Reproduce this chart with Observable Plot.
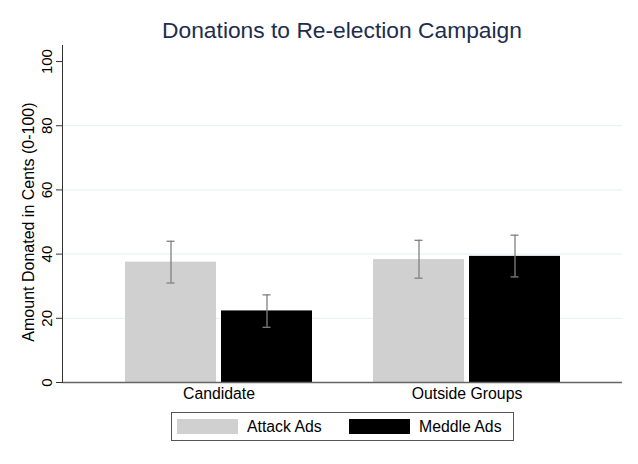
<!DOCTYPE html>
<html>
<head>
<meta charset="utf-8">
<script src="https://cdn.jsdelivr.net/npm/d3@7"></script>
<script src="https://cdn.jsdelivr.net/npm/@observablehq/plot@0.6"></script>
<style>
  html, body { margin: 0; padding: 0; background: #fff; }
  body { width: 638px; height: 464px; overflow: hidden; font-family: "Liberation Sans", Arial, sans-serif; }
  #title { height: 40px; box-sizing: border-box; padding-top: 19px; padding-left: 62px; width: 622px;
           text-align: center; font-size: 22.8px; line-height: 1; color: #1e2d4d; }
  #legend { margin-top: 5px; margin-left: 171px; width: 343px; height: 29px; box-sizing: border-box;
            border: 1px solid #555; display: flex; align-items: center; padding-left: 5px; font-size: 15.8px; color: #000; }
  .item { display: flex; align-items: center; }
  .sw { width: 61px; height: 15px; margin-right: 9px; }
</style>
</head>
<body>
<div id="title">Donations to Re-election Campaign</div>
<div id="chart"></div>
<div id="legend"></div>
<script>
const groups = ["Candidate", "Outside Groups"];
const series = ["Attack Ads", "Meddle Ads"];
const attackMeans = [37.5, 38.3];
const attackLo = [31.0, 32.5];
const attackHi = [44.0, 44.3];
const meddleMeans = [22.3, 39.3];
const meddleLo = [17.2, 32.9];
const meddleHi = [27.3, 45.9];
const yTicks = [0, 20, 40, 60, 80, 100];
const gridTicks = [20, 40, 60, 80];
const colors = ["#d0d0d0", "#000000"];
const yLabel = "Amount Donated in Cents (0-100)";

const attackRows = groups.map((g, i) => ({group: g, series: series[0], value: attackMeans[i], lo: attackLo[i], hi: attackHi[i]}));
const meddleRows = groups.map((g, i) => ({group: g, series: series[1], value: meddleMeans[i], lo: meddleLo[i], hi: meddleHi[i]}));

// styling: each group band holds two bars (91px) separated by a 5px gap
const half = 96;      // inset that hides the other half of the band
const shift = 48;     // offset from band centre to the centre of each bar
const capInset = 41.5;
const errColor = "#808080";
const errWidth = 1.3;

const chart = Plot.plot({
  width: 638,
  height: 367,
  marginLeft: 62,
  marginRight: 16,
  marginTop: 5,
  marginBottom: 25,
  style: {fontFamily: "Liberation Sans, Arial, sans-serif", color: "#000", background: "#fff"},
  x: {domain: groups, paddingInner: 0.246, paddingOuter: 0.252, label: null, axis: null},
  y: {domain: [0, 105], axis: null},
  color: {domain: series, range: colors},
  marks: [
    Plot.gridY(gridTicks, {stroke: "#e6f0f2", strokeOpacity: 1, strokeWidth: 1}),
    Plot.barY(attackRows, {x: "group", y: "value", fill: "series", insetRight: half}),
    Plot.barY(meddleRows, {x: "group", y: "value", fill: "series", insetLeft: half}),
    Plot.ruleX(attackRows, {x: "group", y1: "lo", y2: "hi", dx: -shift, stroke: errColor, strokeWidth: errWidth}),
    Plot.ruleX(meddleRows, {x: "group", y1: "lo", y2: "hi", dx: shift, stroke: errColor, strokeWidth: errWidth}),
    Plot.tickY(attackRows, {x: "group", y: "hi", insetLeft: capInset, insetRight: half + capInset, stroke: errColor, strokeWidth: errWidth}),
    Plot.tickY(attackRows, {x: "group", y: "lo", insetLeft: capInset, insetRight: half + capInset, stroke: errColor, strokeWidth: errWidth}),
    Plot.tickY(meddleRows, {x: "group", y: "hi", insetLeft: half + capInset, insetRight: capInset, stroke: errColor, strokeWidth: errWidth}),
    Plot.tickY(meddleRows, {x: "group", y: "lo", insetLeft: half + capInset, insetRight: capInset, stroke: errColor, strokeWidth: errWidth}),
    Plot.ruleY([0], {stroke: "#666", strokeWidth: 1.3}),
    Plot.frame({anchor: "left", stroke: "#333", strokeWidth: 1}),
    Plot.axisY(yTicks, {anchor: "left", tickSize: 6, tickPadding: 5, tickRotate: -90, fontSize: 15, label: null, stroke: "#333"}),
    Plot.text([yLabel], {frameAnchor: "left", textAnchor: "middle", y: [50], dx: -34, rotate: -90, fontSize: 16, fill: "#000"}),
    Plot.axisX(groups, {anchor: "bottom", tickSize: 0, tickPadding: 5, fontSize: 15.8, label: null})
  ]
});
document.getElementById("chart").appendChild(chart);

const legend = document.getElementById("legend");
series.forEach((s, i) => {
  const item = document.createElement("div");
  item.className = "item";
  if (i === 0) item.style.width = "172px";
  const sw = document.createElement("div");
  sw.className = "sw";
  sw.style.background = colors[i];
  const lab = document.createElement("span");
  lab.textContent = s;
  item.appendChild(sw);
  item.appendChild(lab);
  legend.appendChild(item);
});
</script>
</body>
</html>
